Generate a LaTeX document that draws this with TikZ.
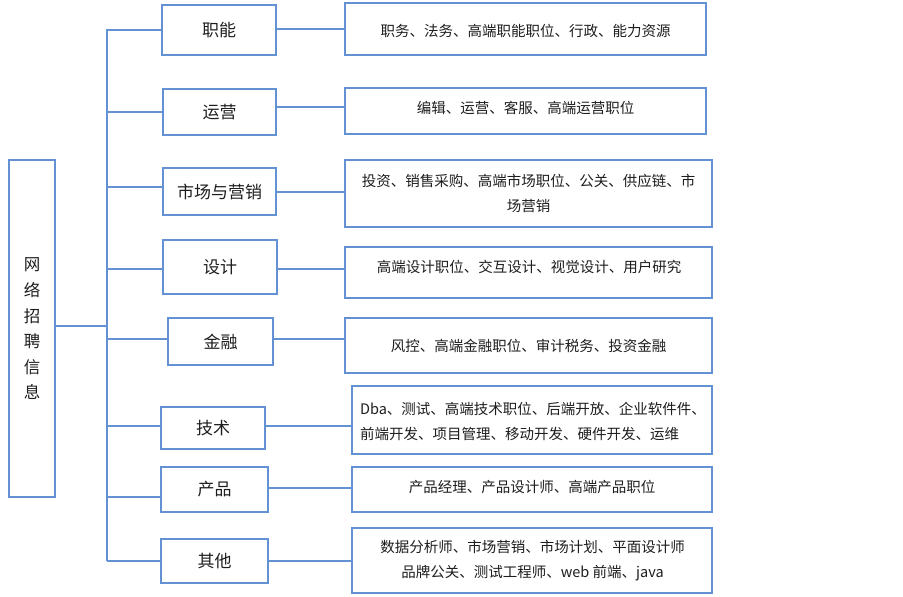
\documentclass[tikz,border=0pt]{standalone}
\usepackage{fontspec}
\setmainfont{Noto Sans CJK SC}
\definecolor{boxblue}{RGB}{98,145,212}
\definecolor{txt}{RGB}{30,30,30}
\tikzset{
  bx/.style={draw=boxblue, line width=1.3pt, inner sep=0pt, outer sep=0pt, fill=white},
  cat/.style={bx, font=\fontsize{17}{20}\selectfont, text=txt},
  dtext/.style={inner sep=0pt, text=txt, font=\fontsize{14.5}{25}\selectfont, align=center},
  conn/.style={draw=boxblue, line width=1.3pt}
}
\begin{document}
\begin{tikzpicture}[x=1pt,y=-1pt]
\useasboundingbox[fill=white] (0,0) rectangle (903,597);
% root
\node[bx, minimum width=46pt, minimum height=337pt] (root) at (32,328.5) {};
\node[dtext, font=\fontsize{16.5}{25.6}\selectfont] (roott) at (32,329) {网\\络\\招\\聘\\信\\息};
% trunk
\coordinate (ttop) at (107,29);
\coordinate (tbot) at (107,561);
% categories
\node[cat, minimum width=114pt, minimum height=50pt] (c1) at (219,30) {职能};
\node[cat, minimum width=113pt, minimum height=46pt] (c2) at (219.5,112) {运营};
\node[cat, minimum width=113pt, minimum height=47pt] (c3) at (219.5,191.5) {市场与营销};
\node[cat, minimum width=114pt, minimum height=54pt] (c4) at (220,267) {设计};
\node[cat, minimum width=105pt, minimum height=47pt] (c5) at (220.5,341.5) {金融};
\node[cat, minimum width=104pt, minimum height=42pt] (c6) at (213,428) {技术};
\node[cat, minimum width=107pt, minimum height=45pt] (c7) at (214.5,489.5) {产品};
\node[cat, minimum width=107pt, minimum height=44pt] (c8) at (214.5,561) {其他};
% detail boxes
\node[bx, minimum width=361pt, minimum height=52pt] (d1) at (525.5,29) {};
\node[bx, minimum width=361pt, minimum height=46pt] (d2) at (525.5,111) {};
\node[bx, minimum width=367pt, minimum height=67pt] (d3) at (528.5,193.5) {};
\node[bx, minimum width=367pt, minimum height=51pt] (d4) at (528.5,272.5) {};
\node[bx, minimum width=367pt, minimum height=55pt] (d5) at (528.5,345.5) {};
\node[bx, minimum width=360pt, minimum height=68pt] (d6) at (532,420) {};
\node[bx, minimum width=360pt, minimum height=45pt] (d7) at (532,489.5) {};
\node[bx, minimum width=360pt, minimum height=65pt] (d8) at (532,560.5) {};
% detail texts
\node[dtext] (t1) at (525.5,31) {职务、法务、高端职能职位、行政、能力资源};
\node[dtext] (t2) at (525.5,108) {编辑、运营、客服、高端运营职位};
\node[dtext] (t3) at (528.5,193) {投资、销售采购、高端市场职位、公关、供应链、市\\场营销};
\node[dtext] (t4) at (529,267) {高端设计职位、交互设计、视觉设计、用户研究};
\node[dtext] (t5) at (528.5,346) {风控、高端金融职位、审计税务、投资金融};
\node[dtext, align=left] (t6) at (533,421) {Dba、测试、高端技术职位、后端开放、企业软件件、\\前端开发、项目管理、移动开发、硬件开发、运维};
\node[dtext] (t7) at (532,487) {产品经理、产品设计师、高端产品职位};
\node[dtext] (t8) at (532.5,560.5) {数据分析师、市场营销、市场计划、平面设计师\\品牌公关、测试工程师、web 前端、java};
% connectors
\draw[conn] (ttop) -- (tbot);
\draw[conn] ([yshift=2.5pt]root.east) -- ([yshift=2.5pt]root.east -| ttop);
\draw[conn] (c1.west) -- (c1.west -| ttop);
\draw[conn] (c2.west) -- (c2.west -| ttop);
\draw[conn] ([yshift=4.5pt]c3.west) -- ([yshift=4.5pt]c3.west -| ttop);
\draw[conn] ([yshift=-2pt]c4.west) -- ([yshift=-2pt]c4.west -| ttop);
\draw[conn] ([yshift=2.5pt]c5.west) -- ([yshift=2.5pt]c5.west -| ttop);
\draw[conn] ([yshift=2pt]c6.west) -- ([yshift=2pt]c6.west -| ttop);
\draw[conn] ([yshift=-7.5pt]c7.west) -- ([yshift=-7.5pt]c7.west -| ttop);
\draw[conn] (c8.west) -- (c8.west -| ttop);
\draw[conn] ([yshift=1pt]c1.east) -- ([yshift=1pt]c1.east -| d1.west);
\draw[conn] ([yshift=5pt]c2.east) -- ([yshift=5pt]c2.east -| d2.west);
\draw[conn] ([yshift=-0.5pt]c3.east) -- ([yshift=-0.5pt]c3.east -| d3.west);
\draw[conn] ([yshift=-2pt]c4.east) -- ([yshift=-2pt]c4.east -| d4.west);
\draw[conn] ([yshift=2.5pt]c5.east) -- ([yshift=2.5pt]c5.east -| d5.west);
\draw[conn] ([yshift=2pt]c6.east) -- ([yshift=2pt]c6.east -| d6.west);
\draw[conn] ([yshift=1.5pt]c7.east) -- ([yshift=1.5pt]c7.east -| d7.west);
\draw[conn] (c8.east) -- (c8.east -| d8.west);
\end{tikzpicture}
\end{document}
